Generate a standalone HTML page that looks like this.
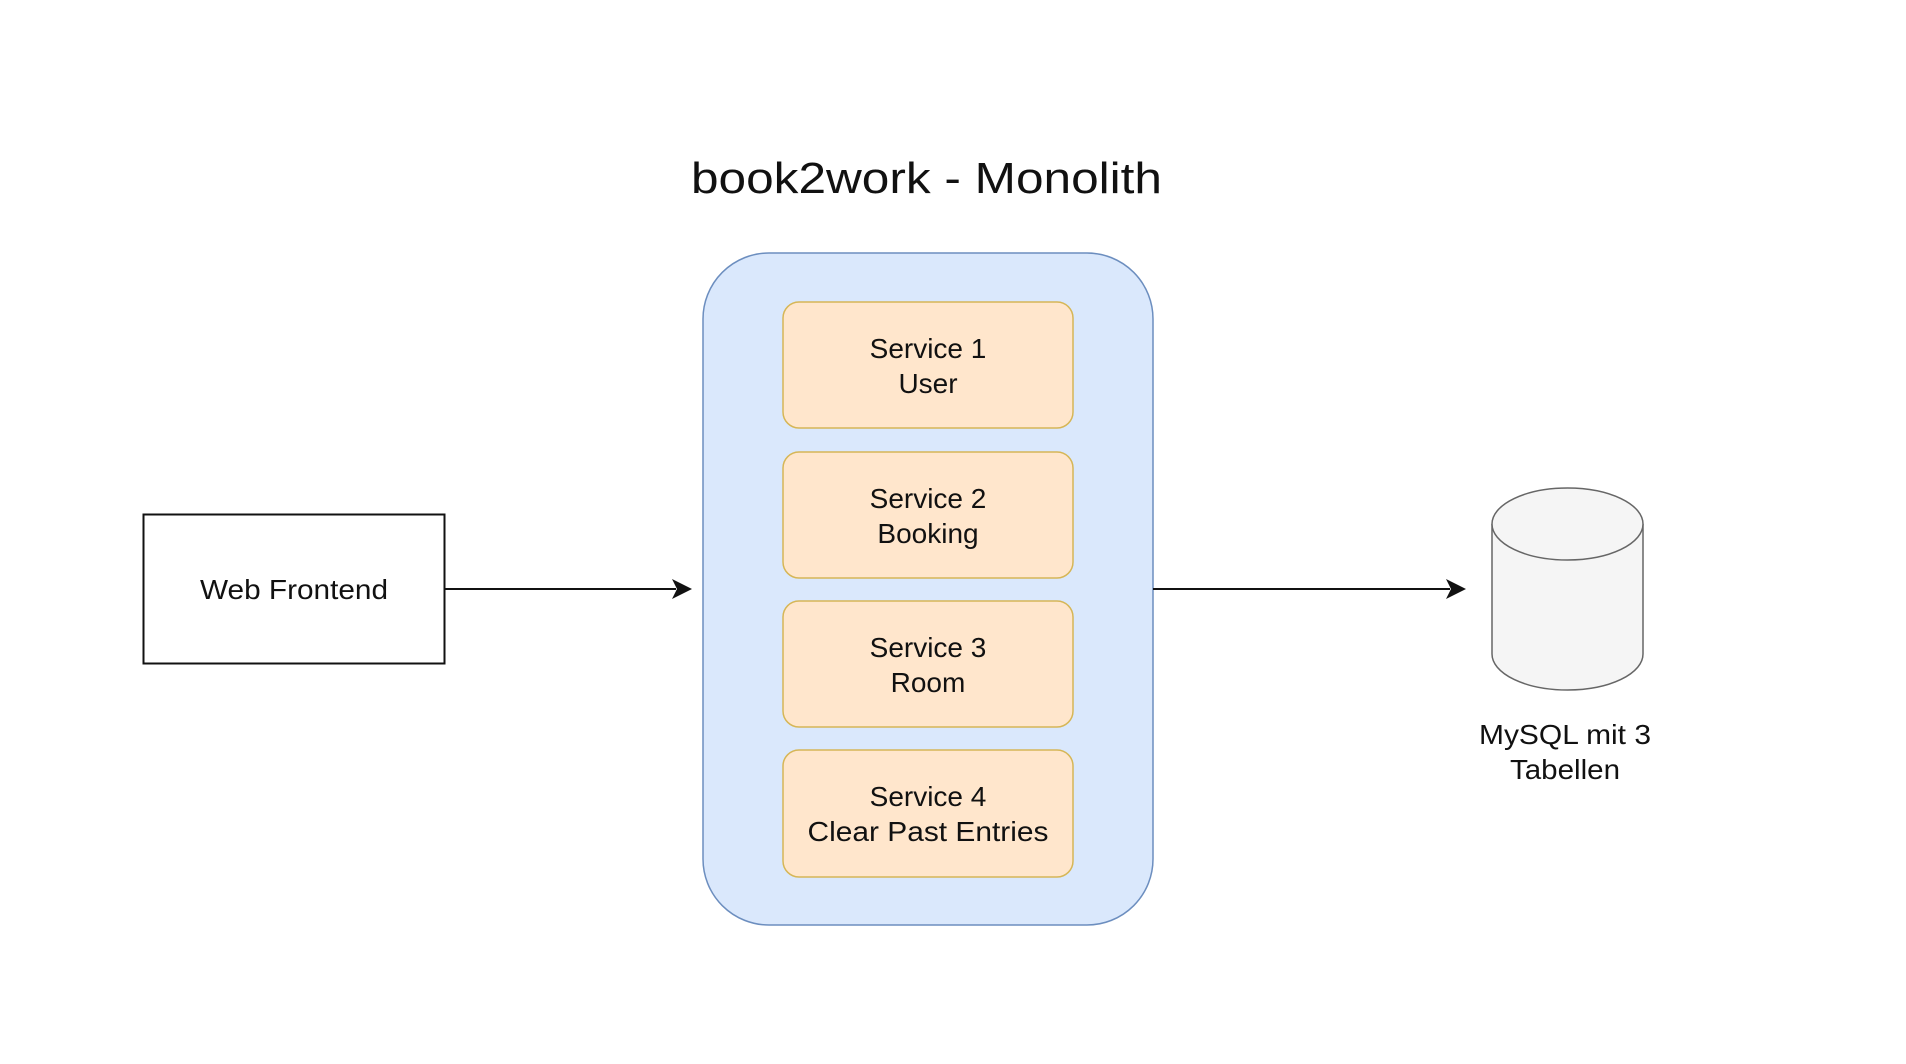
<!DOCTYPE html>
<html><head><meta charset="utf-8"><style>
html,body{margin:0;padding:0;background:#fff;}
svg{display:block;}
text{font-family:"Liberation Sans",Arial,sans-serif;fill:#111;}
</style></head><body>
<svg width="1906" height="1064" viewBox="0 0 1906 1064" xmlns="http://www.w3.org/2000/svg">
<rect width="1906" height="1064" fill="#fff"/>
<text x="691" y="193" font-size="44" textLength="471" lengthAdjust="spacingAndGlyphs">book2work - Monolith</text>

<rect x="143.5" y="514.5" width="301" height="149" fill="#fff" stroke="#111" stroke-width="2"/>
<text x="294" y="599" font-size="28" text-anchor="middle" textLength="188" lengthAdjust="spacingAndGlyphs">Web Frontend</text>

<line x1="445" y1="589" x2="676" y2="589" stroke="#111" stroke-width="2"/>
<path d="M692 589 L672 579 L677 589 L672 599 Z" fill="#111"/>

<rect x="703" y="253" width="450" height="672" rx="66" fill="#dae8fc" stroke="#6c8ebf" stroke-width="1.5"/>

<g fill="#ffe6cc" stroke="#d6b656" stroke-width="1.5">
<rect x="783" y="302" width="290" height="126" rx="16"/>
<rect x="783" y="452" width="290" height="126" rx="16"/>
<rect x="783" y="601" width="290" height="126" rx="16"/>
<rect x="783" y="750" width="290" height="127" rx="16"/>
</g>
<g font-size="28" text-anchor="middle">
<text x="928" y="358">Service 1</text><text x="928" y="393">User</text>
<text x="928" y="508">Service 2</text><text x="928" y="543">Booking</text>
<text x="928" y="657">Service 3</text><text x="928" y="692">Room</text>
<text x="928" y="806">Service 4</text><text x="928" y="841" textLength="241" lengthAdjust="spacingAndGlyphs">Clear Past Entries</text>
</g>

<line x1="1153" y1="589" x2="1450" y2="589" stroke="#111" stroke-width="2"/>
<path d="M1466 589 L1446 579 L1451 589 L1446 599 Z" fill="#111"/>

<path d="M1492 524 L1492 654 A75.5 36 0 0 0 1643 654 L1643 524" fill="#f5f5f5" stroke="#666" stroke-width="1.5"/>
<ellipse cx="1567.5" cy="524" rx="75.5" ry="36" fill="#f5f5f5" stroke="#666" stroke-width="1.5"/>

<g font-size="28" text-anchor="middle">
<text x="1565" y="744" textLength="172" lengthAdjust="spacingAndGlyphs">MySQL mit 3</text>
<text x="1565" y="779" textLength="110" lengthAdjust="spacingAndGlyphs">Tabellen</text>
</g>
</svg>
</body></html>
